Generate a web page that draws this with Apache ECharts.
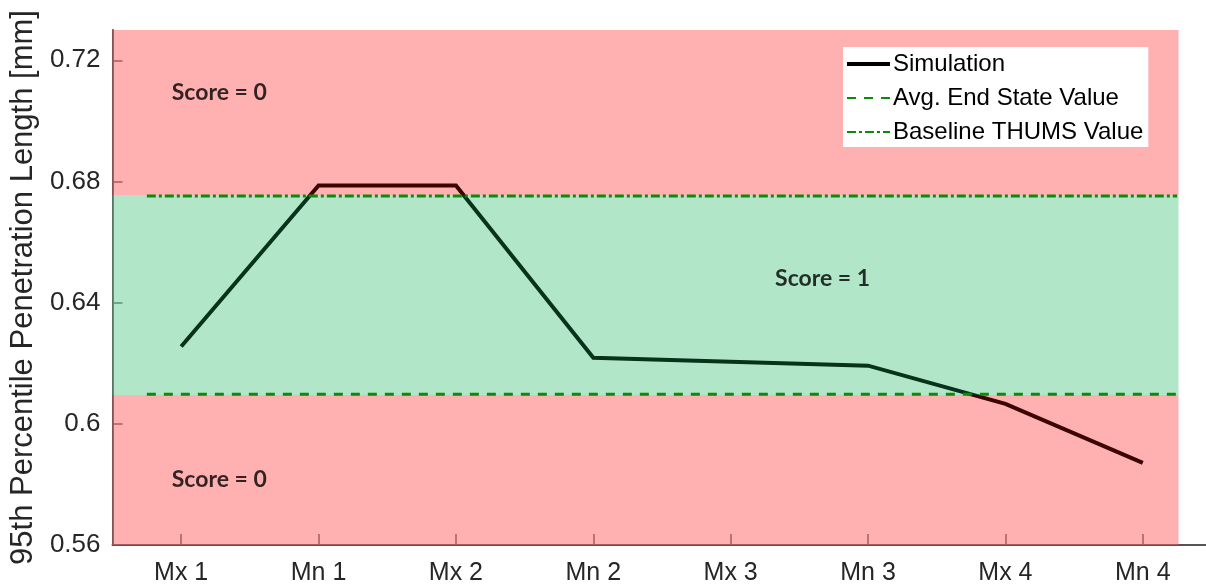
<!DOCTYPE html>
<html>
<head>
<meta charset="utf-8">
<script src="https://cdn.jsdelivr.net/npm/echarts@6/dist/echarts.min.js"></script>
<style>
  html, body { margin: 0; padding: 0; background: #fff; }
  #chart { width: 1206px; height: 587px; }
</style>
</head>
<body>
<div id="chart"></div>
<script>
// Load-case categories along the x axis
const categories = ['Mx 1', 'Mn 1', 'Mx 2', 'Mn 2', 'Mx 3', 'Mn 3', 'Mx 4', 'Mn 4'];
// 95th percentile penetration length per load case [mm]
const simulation = [0.6255, 0.6787, 0.6787, 0.6218, 0.6205, 0.6192, 0.6066, 0.5871];
// Reference levels
const avgEndStateValue = 0.6098;
const baselineThumsValue = 0.6752;
// Scoring band limits (score = 1 inside, 0 outside)
const bandLower = 0.6095;
const bandUpper = 0.6755;
// Y tick values and labels
const yTickValues = [0.56, 0.60, 0.64, 0.68, 0.72];
const yTickLabels = ['0.56', '0.6', '0.64', '0.68', '0.72'];

const xPos = categories.map((_, i) => i + 1);
const simData = simulation.map((v, i) => [xPos[i], v]);

const font = '"Liberation Sans", Arial, sans-serif';
const scoreFont = 'Lato, "Open Sans", sans-serif';
const xMin = 0.5, xMax = 8.46, yMin = 0.56, yMax = 0.73;
const bandX0 = 0.5, bandX1 = 8.26;
const refX0 = 0.75, refX1 = 8.25;
const hidden = 'rgba(0,0,0,0)';

const chart = echarts.init(document.getElementById('chart'));
chart.setOption({
  animation: false,
  grid: { left: 112, right: 0, top: 30, bottom: 42, containLabel: false },
  xAxis: {
    type: 'value', min: xMin, max: xMax,
    splitLine: { show: false },
    axisLine: { show: true, lineStyle: { color: '#555', width: 2 } },
    axisTick: { show: true, inside: true, length: 11, customValues: xPos, lineStyle: { color: '#555', width: 1.5 } },
    axisLabel: {
      customValues: xPos,
      formatter: v => categories[Math.round(v) - 1] || '',
      color: '#262626', fontFamily: font, fontSize: 25, margin: 16
    }
  },
  yAxis: {
    type: 'value', min: yMin, max: yMax,
    splitLine: { show: false },
    axisLine: { show: true, lineStyle: { color: '#555', width: 2 } },
    axisTick: { show: true, inside: true, length: 10, customValues: yTickValues, lineStyle: { color: '#555', width: 1.5 } },
    axisLabel: {
      customValues: yTickValues,
      formatter: v => {
        const i = yTickValues.findIndex(t => Math.abs(t - v) < 1e-9);
        return i >= 0 ? yTickLabels[i] : '';
      },
      color: '#262626', fontFamily: font, fontSize: 26, margin: 12
    },
    name: '95th Percentile Penetration Length [mm]',
    nameLocation: 'middle', nameGap: 66,
    nameTextStyle: { color: '#262626', fontFamily: font, fontSize: 31 }
  },
  visualMap: {
    type: 'piecewise', show: false, dimension: 1, seriesIndex: 0,
    pieces: [{ gte: bandLower, lte: bandUpper, color: '#06331a' }],
    outOfRange: { color: '#3c0303' }
  },
  legend: {
    left: 843, top: 47,
    orient: 'vertical',
    backgroundColor: '#fff',
    padding: [5, 5, 3, 2],
    itemWidth: 43, itemHeight: 12, itemGap: 10,
    itemStyle: { color: hidden, borderColor: hidden, borderWidth: 0 },
    textStyle: { color: '#000', fontFamily: font, fontSize: 24, padding: [0, 0, 0, -2] },
    data: [
      { name: 'Simulation', lineStyle: { color: '#000', width: 4 } },
      { name: 'Avg. End State Value' },
      { name: 'Baseline THUMS Value' }
    ]
  },
  series: [
    {
      name: 'Simulation', type: 'line', data: simData,
      symbol: 'none', z: 5,
      lineStyle: { width: 4, join: 'miter' },
      markArea: {
        silent: true,
        data: [
          [{ coord: [bandX0, yMin], itemStyle: { color: 'rgba(255,97,97,0.5)' } }, { coord: [bandX1, bandLower] }],
          [{ coord: [bandX0, bandLower], itemStyle: { color: 'rgba(101,205,147,0.5)' } }, { coord: [bandX1, bandUpper] }],
          [{ coord: [bandX0, bandUpper], itemStyle: { color: 'rgba(255,97,97,0.5)' } }, { coord: [bandX1, yMax] }]
        ]
      }
    },
    {
      name: 'Avg. End State Value', type: 'line', symbol: 'none', z: 6,
      data: [[refX0, avgEndStateValue], [refX1, avgEndStateValue]],
      itemStyle: { color: '#0c8a0c' },
      lineStyle: { color: '#0c8a0c', width: 3, type: [9, 8] }
    },
    {
      name: 'Baseline THUMS Value', type: 'line', symbol: 'none', z: 6,
      data: [[refX0, baselineThumsValue], [refX1, baselineThumsValue]],
      itemStyle: { color: '#0c8a0c' },
      lineStyle: { color: '#0c8a0c', width: 3, type: [9, 3, 3, 3] }
    },
    {
      // score annotations for each band
      name: 'scoreText', type: 'scatter', z: 7, silent: true,
      symbolSize: 1, itemStyle: { color: hidden },
      label: {
        show: true, position: 'inside', formatter: p => p.data.text,
        color: '#000', fontFamily: scoreFont, fontWeight: 'bold', fontSize: 23
      },
      data: [
        { value: [1.277, 0.7094], text: 'Score = 0' },
        { value: [5.669, 0.6479], text: 'Score = 1' },
        { value: [1.277, 0.5815], text: 'Score = 0' }
      ]
    }
  ]
});
</script>
</body>
</html>
